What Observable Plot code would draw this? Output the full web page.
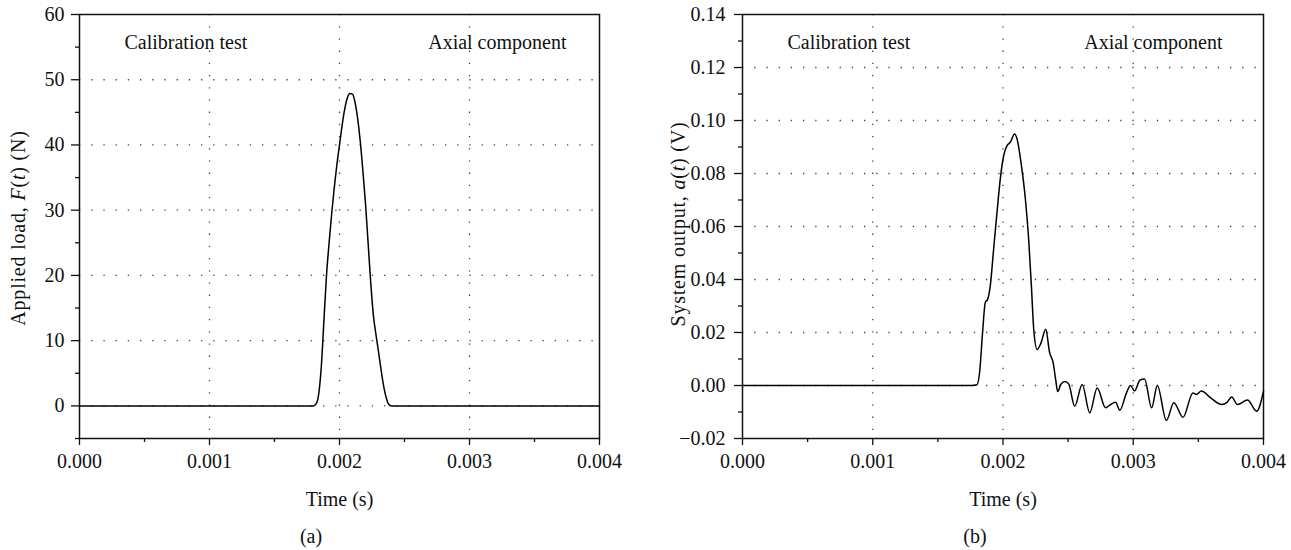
<!DOCTYPE html>
<html><head><meta charset="utf-8">
<script src="https://cdn.jsdelivr.net/npm/d3@7"></script>
<script src="https://cdn.jsdelivr.net/npm/@observablehq/plot@0.6"></script>
<style>
body{margin:0;background:#fff;font-family:"Liberation Serif",serif;}
#wrap{display:flex;width:1291px;height:550px;}
.panel{position:relative;height:550px;}
.cap{position:absolute;top:525px;width:100px;text-align:center;font-size:20px;line-height:22px;color:#111;}
</style></head><body>
<div id="wrap"><div id="pa" class="panel"></div><div id="pb" class="panel"></div></div>
<script>
// ---- data ----
const xMajor = [0, 0.001, 0.002, 0.003, 0.004];
const xMinor = [0.0005, 0.0015, 0.0025, 0.0035];
const xGrid = [0.001, 0.002, 0.003];

const loadMajor = [0, 10, 20, 30, 40, 50, 60];
const loadMinor = [-5, 5, 15, 25, 35, 45, 55];
const loadGrid = [0, 10, 20, 30, 40, 50];

const outMajor = [-0.02, 0, 0.02, 0.04, 0.06, 0.08, 0.10, 0.12, 0.14];
const outMinor = [-0.01, 0.01, 0.03, 0.05, 0.07, 0.09, 0.11, 0.13];
const outGrid = [0, 0.02, 0.04, 0.06, 0.08, 0.10, 0.12];

// Applied load F(t) (N)
const loadT = [0, 0.00176, 0.00180, 0.00182, 0.00184, 0.00186, 0.00188, 0.00190, 0.00192, 0.00194, 0.00196, 0.00198, 0.00200,
  0.00202, 0.00204, 0.00206, 0.00208, 0.00210, 0.00212, 0.00214, 0.00216, 0.00218, 0.00220, 0.00222, 0.00224,
  0.00226, 0.00228, 0.00230, 0.00232, 0.00234, 0.00236, 0.00238, 0.00240, 0.00244, 0.004];
const loadF = [0, 0, 0, 0.3, 1.8, 6, 13, 20, 25, 29.5, 33.5, 37, 40,
  43, 45.5, 47.2, 47.9, 47.8, 46.5, 44, 40.5, 36, 31, 25, 19,
  14, 11, 8.3, 5.5, 3, 1.2, 0.2, 0, 0, 0];

// System output a(t) (V)
const outT = [0, 0.00176, 0.00180, 0.00182, 0.001843, 0.001864, 0.001882, 0.001902, 0.001928, 0.001954, 0.001979, 0.002005,
  0.002031, 0.002056, 0.002089, 0.002108, 0.002138, 0.002172, 0.002197, 0.002218, 0.002236, 0.002262, 0.002292, 0.002328,
  0.002358, 0.002385, 0.002405, 0.00242, 0.002445, 0.002476, 0.002505, 0.00255, 0.002608, 0.002666, 0.002723, 0.002787,
  0.002825, 0.002864, 0.002897, 0.002948, 0.002979, 0.00301, 0.003051, 0.003087, 0.003141, 0.003185, 0.003254, 0.003312,
  0.003382, 0.003458, 0.003485, 0.003523, 0.003595, 0.003679, 0.003718, 0.003756, 0.0038, 0.003877, 0.003948, 0.004];
const outA = [0, 0, 0.0003, 0.0048, 0.0199, 0.0313, 0.0325, 0.0375, 0.0514, 0.0653, 0.0779, 0.0867,
  0.0905, 0.0918, 0.0949, 0.093, 0.0842, 0.0703, 0.0552, 0.0375, 0.0212, 0.0136, 0.0161, 0.0212,
  0.0124, 0.0086, 0.002, -0.0023, 0.0005, 0.0015, 0.0005, -0.0078, 0.0004, -0.0103, -0.0009, -0.0084,
  -0.0072, -0.0063, -0.0093, -0.0028, 0, -0.0021, 0.002, 0.0025, -0.0084, 0, -0.0132, -0.0065,
  -0.012, -0.0028, -0.0034, -0.0021, -0.0047, -0.0072, -0.0065, -0.0043, -0.0072, -0.0055, -0.0097, -0.0021];

const leftNote = "Calibration test";
const rightNote = "Axial component";

// ---- drawing ----
const FONT = "Liberation Serif";
const FS = 20;
const gridStyle = {stroke: "#444", strokeOpacity: 1, strokeWidth: 1.3, strokeDasharray: "1.3,10.9"};

function panel({width, mL, mR, yDomain, major, minor, grid, yFmt, ypad, noteDx, T, V}) {
  const H = 520, plotBottom = 438;
  const data = T.map((t, i) => ({t, v: V[i]}));
  return Plot.plot({
    width, height: H,
    marginLeft: mL, marginRight: mR, marginTop: 14, marginBottom: H - plotBottom,
    style: {fontFamily: FONT, fontSize: FS + "px", color: "#111", background: "white", overflow: "visible"},
    x: {domain: [0, 0.004]},
    y: {domain: yDomain},
    marks: [
      Plot.gridX(xGrid, gridStyle),
      Plot.gridY(grid, gridStyle),
      Plot.axisX(xMinor, {tickSize: 4, text: null, label: null, strokeWidth: 1.3}),
      Plot.axisX(xMajor, {tickSize: 7, tickPadding: 8, tickFormat: d3.format(".3f"), label: null, strokeWidth: 1.3}),
      Plot.axisY(minor, {tickSize: 4, text: null, label: null, strokeWidth: 1.3}),
      Plot.axisY(major, {tickSize: 8, tickPadding: ypad, tickFormat: yFmt, label: null, strokeWidth: 1.3}),
      Plot.frame({stroke: "#111", strokeWidth: 1.5}),
      Plot.line(data, {x: "t", y: "v", curve: "monotone-x", stroke: "#000", strokeWidth: 1.5}),
      Plot.text([leftNote], {frameAnchor: "top-left", dx: 45, dy: 28, textAnchor: "start", lineAnchor: "middle", fontSize: FS, letterSpacing: 0.4}),
      Plot.text([rightNote], {frameAnchor: "top-right", dx: noteDx, dy: 28, textAnchor: "end", lineAnchor: "middle", fontSize: FS}),
      Plot.text(["Time (s)"], {frameAnchor: "bottom", dy: 61, lineAnchor: "middle", fontSize: FS})
    ]
  });
}

function yTitle(svg, x, y, parts) {
  const t = d3.select(svg).append("text")
    .attr("transform", `translate(${x},${y}) rotate(-90)`)
    .attr("text-anchor", "middle")
    .attr("dominant-baseline", "middle")
    .attr("font-family", FONT)
    .attr("font-size", FS)
    .attr("letter-spacing", 0.8)
    .attr("fill", "#111");
  parts.forEach(([s, it]) => t.append("tspan").text(s).attr("font-style", it ? "italic" : null));
}

const a = panel({width: 645, mL: 79, mR: 46, yDomain: [-5, 60], major: loadMajor, minor: loadMinor, grid: loadGrid,
  yFmt: d3.format("d"), ypad: 7, noteDx: -33, T: loadT, V: loadF});
yTitle(a, 20, 228, [["Applied load, ", false], ["F", true], ["(", false], ["t", true], [") (N)", false]]);
document.getElementById("pa").append(a);

const b = panel({width: 646, mL: 97, mR: 28, yDomain: [-0.02, 0.14], major: outMajor, minor: outMinor, grid: outGrid,
  yFmt: d3.format(".2f"), ypad: 9, noteDx: -41, T: outT, V: outA});
yTitle(b, 35, 224, [["System output, ", false], ["a", true], ["(", false], ["t", true], [") (V)", false]]);
document.getElementById("pb").append(b);

const ca = document.createElement("div"); ca.className = "cap"; ca.style.left = (311 - 50) + "px"; ca.textContent = "(a)";
document.getElementById("pa").append(ca);
const cb = document.createElement("div"); cb.className = "cap"; cb.style.left = (975 - 645 - 50) + "px"; cb.textContent = "(b)";
document.getElementById("pb").append(cb);
</script>
</body></html>
